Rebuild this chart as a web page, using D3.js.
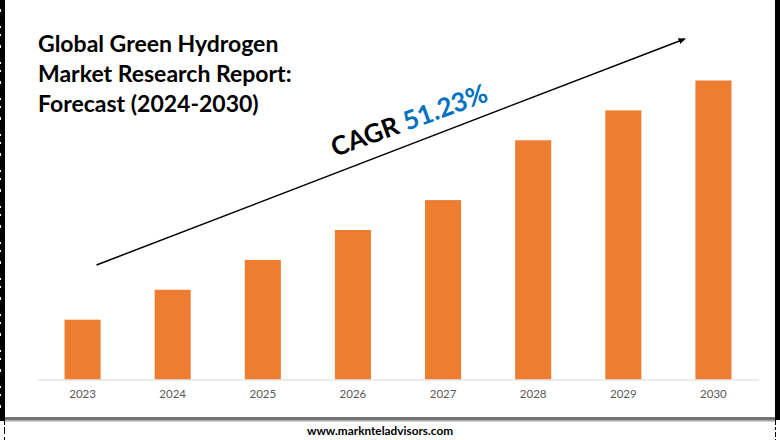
<!DOCTYPE html>
<html>
<head>
<meta charset="utf-8">
<script src="https://cdn.jsdelivr.net/npm/d3@7"></script>
<style>
   html, body { margin: 0; padding: 0; background: #fff; }
   svg { display: block; }
</style>
</head>
<body>
<div id="chart"></div>
<script>
// CHART DATA (NO VALUES PRINTED ON THE ORIGINAL, RELATIVE BAR HEIGHTS)
var years = ['2023', '2024', '2025', '2026', '2027', '2028', '2029', '2030'];
var values = [2, 3, 4, 5, 6, 8, 9, 10];
var titleLines = ['Global Green Hydrogen', 'Market Research Report:', 'Forecast (2024-2030)'];

// TREND ARROW, IN UNITS OF THE TWO SCALES
var arrowYears = [0.155, 6.68];
var arrowValues = [3.83, 11.39];

var width = 780, height = 440;
var font = 'Lato, "Open Sans", sans-serif';

var canvas = d3.select('#chart').append('svg')
   .attr('width', width)
   .attr('height', height)

// X-SCALING
var xScale = d3.scaleBand()
   .domain(years)
   .range([37.5, 758.5])
   .paddingInner(0.6)
   .paddingOuter(0.3)

// Y-SCALING
var yScale = d3.scaleLinear()
   .domain([0, 10])
   .range([379.5, 80.5])

// ARROW POSITION ALONG THE X AXIS
var arrowX = d3.scaleLinear()
   .domain([0, 7])
   .range([xScale(years[0]) + xScale.bandwidth() / 2, xScale(years[7]) + xScale.bandwidth() / 2])

// FADE OF THE RULE ABOVE THE FOOTER
var defs = canvas.append('defs')
var fade = defs.append('linearGradient')
   .attr('id', 'fade')
   .attr('x1', 0).attr('y1', 0)
   .attr('x2', 0).attr('y2', 1)
fade.append('stop').attr('offset', '0%').attr('stop-color', '#8a8a8a')
fade.append('stop').attr('offset', '35%').attr('stop-color', '#5f5f5f')
fade.append('stop').attr('offset', '100%').attr('stop-color', '#e4e4e4')

// BLACK FRAME LEFT AND RIGHT + RULE ABOVE THE FOOTER
canvas.append('rect').attr('x', 1).attr('y', 0).attr('width', 4).attr('height', 421).attr('fill', '#000')
canvas.append('rect').attr('x', 775).attr('y', 0).attr('width', 5).attr('height', 420).attr('fill', '#000')
canvas.append('rect').attr('x', 5).attr('y', 417).attr('width', 770).attr('height', 5).attr('fill', 'url(#fade)')

// BROKEN EDGES OF THE FRAME
canvas.append('line')
   .attr('x1', 0.5).attr('y1', 0).attr('x2', 0.5).attr('y2', 421)
   .attr('stroke', '#000').attr('stroke-dasharray', '9 3 14 2 6 2')
canvas.append('line')
   .attr('x1', 4.5).attr('y1', 421).attr('x2', 4.5).attr('y2', height)
   .attr('stroke', '#000').attr('stroke-dasharray', '4 2 7 3')
canvas.append('line')
   .attr('x1', 775.5).attr('y1', 420).attr('x2', 775.5).attr('y2', height)
   .attr('stroke', '#000').attr('stroke-dasharray', '5 2 3 2')

// BARS
canvas.selectAll('.bar')
   .data(values)
   .enter().append('rect')
      .attr('class', 'bar')
      .attr('x', (d, i) => xScale(years[i]))
      .attr('y', (d) => yScale(d))
      .attr('width', xScale.bandwidth())
      .attr('height', (d) => yScale(0) - yScale(d))
      .attr('fill', '#ed7d31')

// X AXIS
var axis = canvas.append('g')
   .attr('transform', 'translate(0,' + yScale(0) + ')')
   .call(d3.axisBottom(xScale).tickSize(0).tickPadding(10))

axis.select('.domain').attr('stroke', '#d9d9d9').attr('stroke-width', 1)
axis.selectAll('text')
   .attr('fill', '#595959')
   .style('font-family', font)
   .style('font-size', '11.5px')

// TITLE
canvas.selectAll('.title')
   .data(titleLines)
   .enter().append('text')
      .attr('class', 'title')
      .attr('x', 38)
      .attr('y', (d, i) => 52 + i * 30)
      .attr('fill', '#000')
      .style('font-family', font)
      .style('font-weight', 700)
      .style('font-size', '23px')
      .text((d) => d)

// ARROW HEAD
defs.append('marker')
   .attr('id', 'head')
   .attr('viewBox', '0 0 10 10')
   .attr('refX', 8)
   .attr('refY', 5)
   .attr('markerWidth', 5)
   .attr('markerHeight', 5)
   .attr('orient', 'auto')
   .append('path')
      .attr('d', 'M0,1 L10,5 L0,9 Z')
      .attr('fill', '#000')

// TREND ARROW
canvas.append('line')
   .attr('x1', arrowX(arrowYears[0]))
   .attr('y1', yScale(arrowValues[0]))
   .attr('x2', arrowX(arrowYears[1]))
   .attr('y2', yScale(arrowValues[1]))
   .attr('stroke', '#000')
   .attr('stroke-width', 1.5)
   .attr('marker-end', 'url(#head)')

// CAGR LABEL, ROTATED ALONG THE ARROW
var cagr = canvas.append('text')
   .attr('transform', 'translate(335,157) rotate(-20)')
   .style('font-family', font)
   .style('font-weight', 700)
   .style('font-size', '26px')

cagr.append('tspan').attr('fill', '#000').text('CAGR ')
cagr.append('tspan').attr('fill', '#0070c0').text('51.23%')

// FOOTER
canvas.append('text')
   .attr('x', 380)
   .attr('y', 435)
   .attr('text-anchor', 'middle')
   .attr('fill', '#000')
   .style('font-family', font)
   .style('font-weight', 700)
   .style('font-size', '11.8px')
   .text('www.marknteladvisors.com')
</script>
</body>
</html>
